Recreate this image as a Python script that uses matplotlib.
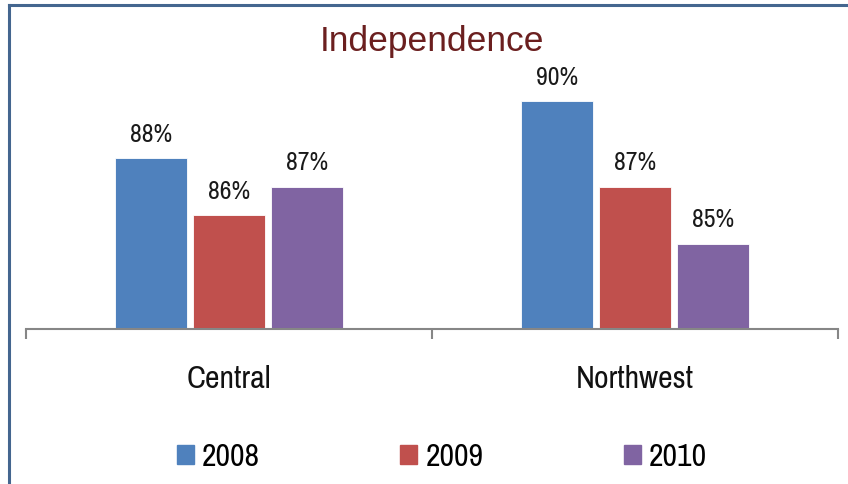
import numpy as np
import matplotlib
matplotlib.use("Agg")
from matplotlib import pyplot as plt
from matplotlib.patches import Rectangle

# data
regions = ["Central", "Northwest"]
years = ["2008", "2009", "2010"]
vals_2008 = [88, 90]
vals_2009 = [86, 87]
vals_2010 = [87, 85]
colors = ["#4f81bd", "#c0504d", "#8064a2"]

narrow = ["Archivo Narrow", "Roboto Condensed", "DejaVu Sans"]

W, H = 848, 484
fig = plt.figure(figsize=(W / 100, H / 100), dpi=100)

# axes placed in pixel terms: x 26..838, y 44..329 (from top)
ax = fig.add_axes([26 / W, (H - 329) / H, 812 / W, 285 / H])

x = np.arange(len(regions))
bw = 72 / 406
step = 78 / 406
series = [vals_2008, vals_2009, vals_2010]
for i, (vals, c, yr) in enumerate(zip(series, colors, years)):
    bars = ax.bar(x + (i - 1) * step, vals, width=bw, bottom=0, color=c, label=yr,
                  edgecolor="white", linewidth=0.6)
    for b, v in zip(bars, vals):
        ax.annotate(f"{v}%", (b.get_x() + b.get_width() / 2, v), xytext=(0, 9),
                    textcoords="offset points", ha="center", va="bottom",
                    fontsize=18.5, family=narrow, color="#1a1a1a")

ax.set_ylim(82, 92)
ax.set_xlim(-0.5, 1.5)
for s in ["top", "right", "left"]:
    ax.spines[s].set_visible(False)
ax.spines["bottom"].set_color("#868686")
ax.spines["bottom"].set_linewidth(1.5)
ax.set_yticks([])
ax.set_xticks(x)
ax.set_xticklabels(regions, fontsize=23, family=narrow, color="#111111")
ax.tick_params(axis="x", which="major", length=0, pad=26)
ax.set_xticks([-0.5, 0.5, 1.5], minor=True)
ax.tick_params(axis="x", which="minor", length=7, width=1.5, color="#868686", direction="out")

fig.text(432 / W, 1 - 42 / H, "Independence", ha="center", va="center", fontsize=25.5,
         family=["Liberation Sans", "DejaVu Sans"], color="#6b1f1f")

# legend below the axis
handles = [Rectangle((0, 0), 1, 1, color=c) for c in colors]
leg = fig.legend(handles, years, loc="center", bbox_to_anchor=(442 / W, 1 - 457 / H), ncol=3,
                 frameon=False, prop={"family": narrow, "size": 23}, handlelength=0.53,
                 handleheight=0.53, handletextpad=0.25, columnspacing=4.4)

# chart border (only left and top visible in the crop)
fig.add_artist(plt.Line2D([8.5 / W, 8.5 / W], [0, 1 - 5 / H], transform=fig.transFigure,
                          color="#44668f", linewidth=2.2))
fig.add_artist(plt.Line2D([8.5 / W, 1], [1 - 5 / H, 1 - 5 / H], transform=fig.transFigure,
                          color="#44668f", linewidth=2.2))

fig.savefig("out.png", dpi=100)
